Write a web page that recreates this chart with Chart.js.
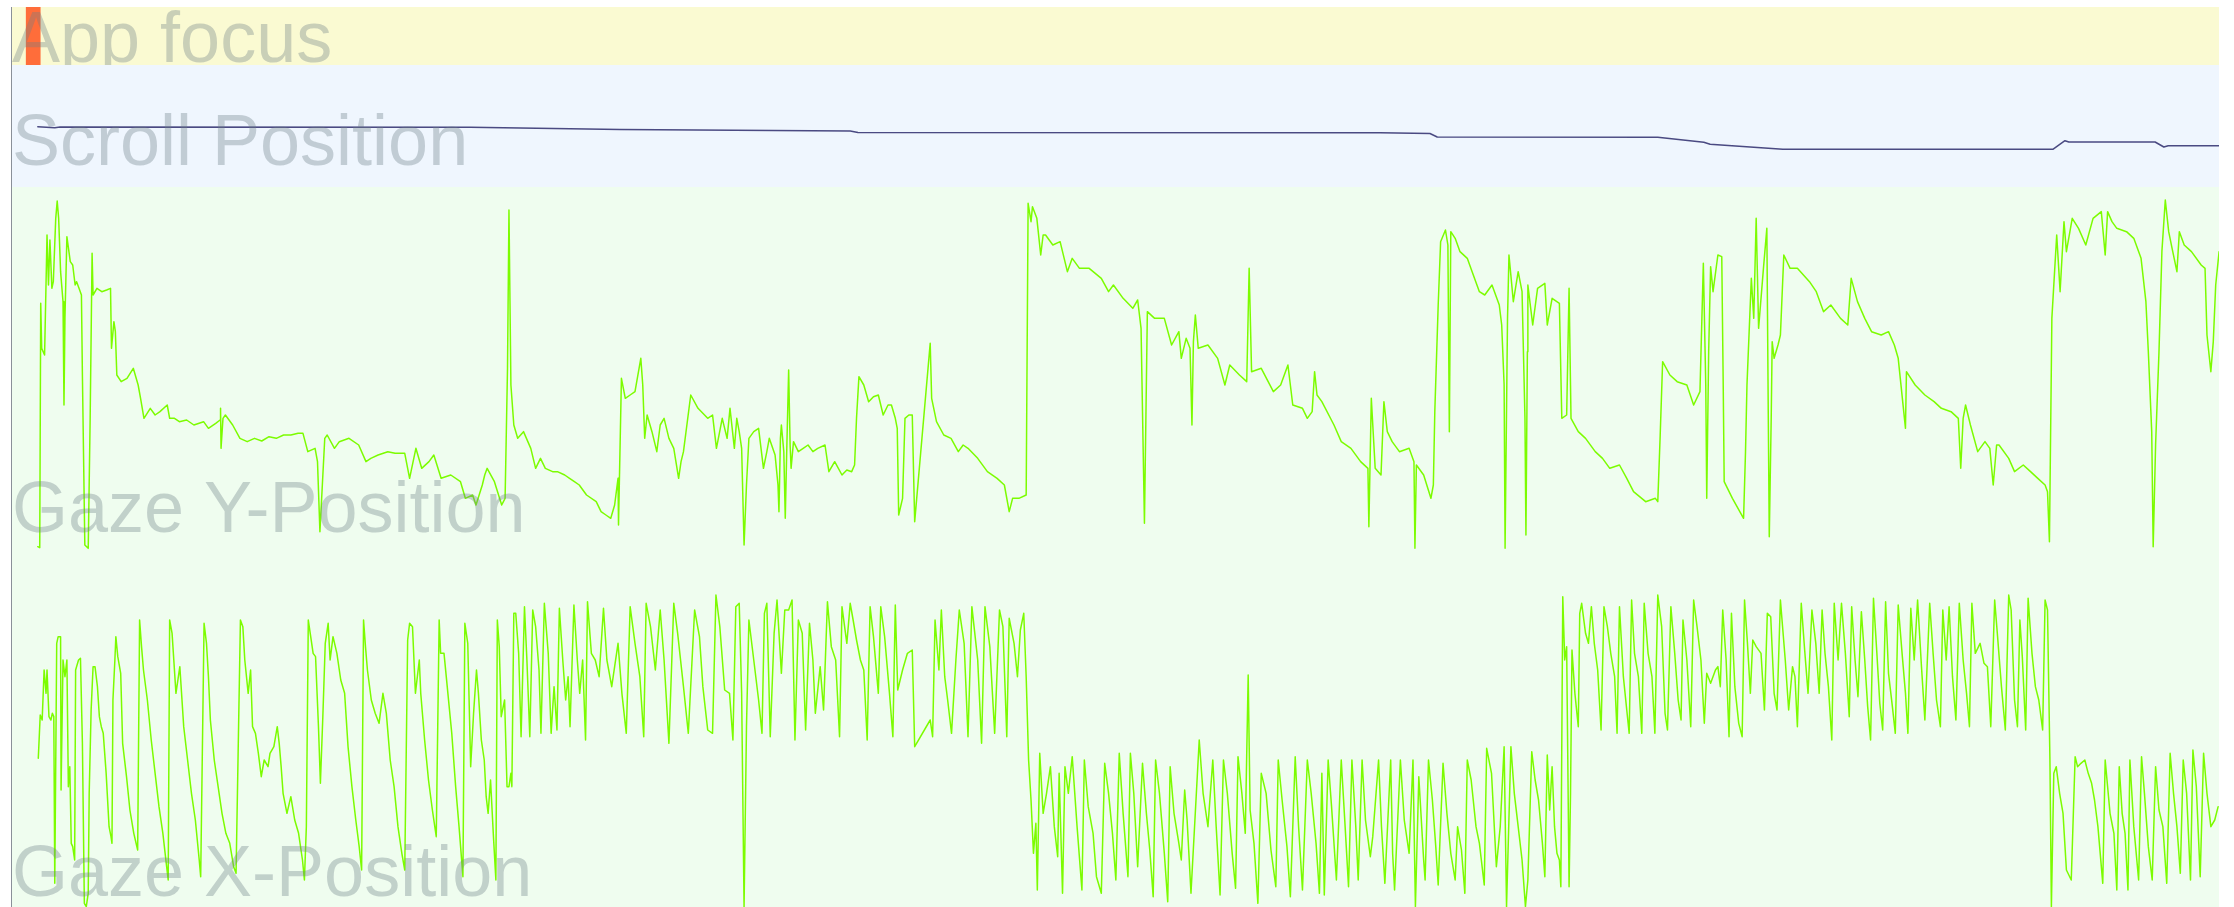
<!DOCTYPE html>
<html>
<head>
<meta charset="utf-8">
<title>Session timeline</title>
<script src="https://cdn.jsdelivr.net/npm/chart.js@4.4.1/dist/chart.umd.min.js"></script>
<style>
  html, body { margin: 0; padding: 0; background: #ffffff; width: 2234px; height: 907px; overflow: hidden; }
  canvas.lane { position: absolute; left: 12px; display: block; }
  #timeAxis { position: absolute; left: 11px; top: 7px; width: 1px; height: 900px; background: #8a9099; }
</style>
</head>
<body>
<div id="timeAxis"></div>
<canvas id="focusLane" class="lane" style="top:7px" width="2207" height="58"></canvas>
<canvas id="scrollLane" class="lane" style="top:65px" width="2207" height="122"></canvas>
<canvas id="gazeYLane" class="lane" style="top:187px" width="2207" height="373"></canvas>
<canvas id="gazeXLane" class="lane" style="top:560px" width="2207" height="347"></canvas>
<script>
// Recording window, in eye-tracker sample numbers (20 Hz)
const sampleRange = [24.76, 4577.8];

// Intervals where the app had focus (start sample, end sample)
const focusSpans = [[54, 83]];

// Document scroll offset in px, [sample, offset]
const scrollTrace = [
  [78,3085],[113,3140],[124,3100],[970,3115],[1279,3225],[1754,3300],[1770,3375],
  [2847,3385],[2950,3425],[2965,3600],[3420,3615],[3515,3865],[3528,3965],[3678,4215],
  [4235,4215],[4260,3785],[4268,3850],[4446,3850],[4464,4100],[4473,4035],[4578,4035]
];

// Vertical gaze position on screen in px, [sample, y]
const gazeYTrace = [
  [78,1085],[82,1088],[84,355],[86,490],[92,510],[97,150],[100,300],[103,165],[107,310],[110,290],
  [115,100],[118,48],[121,100],[125,260],[130,350],[132,660],[134,400],[138,155],[145,230],[150,240],
  [155,300],[158,290],[163,310],[168,330],[170,570],[175,1080],[182,1090],[186,700],[190,205],[192,330],
  [200,310],[210,320],[220,315],[228,310],[230,490],[235,410],[238,440],[241,570],[250,590],[262,580],
  [275,550],[285,600],[290,640],[297,700],[310,670],[320,690],[330,680],[345,660],[350,700],[360,700],
  [370,710],[385,705],[400,720],[420,710],[430,730],[445,715],[454,705],[455,670],[456,790],[460,700],
  [465,690],[480,720],[495,760],[510,770],[525,760],[540,768],[555,755],[570,760],[585,750],[600,750],
  [615,745],[625,745],[635,800],[650,790],[655,830],[660,1040],[665,900],[670,760],[675,750],[690,790],
  [700,770],[720,760],[740,780],[755,830],[765,820],[780,810],[800,800],[815,805],[835,805],[845,880],
  [858,790],[870,850],[885,830],[895,810],[910,880],[930,870],[950,890],[960,940],[975,930],[982,960],
  [995,900],[1000,870],[1005,850],[1020,890],[1035,960],[1042,940],[1047,550],[1050,75],[1054,600],[1060,720],
  [1068,760],[1080,740],[1095,790],[1105,850],[1115,820],[1125,850],[1140,860],[1150,860],[1165,870],[1175,880],
  [1185,890],[1195,900],[1210,930],[1230,950],[1240,980],[1250,990],[1260,1000],[1268,960],[1275,880],[1276,1020],
  [1282,580],[1290,640],[1300,630],[1310,620],[1322,520],[1326,600],[1330,760],[1335,690],[1345,740],[1355,800],
  [1362,720],[1370,700],[1380,760],[1390,790],[1400,880],[1405,830],[1410,800],[1425,630],[1440,670],[1460,700],
  [1470,690],[1478,790],[1490,700],[1500,760],[1506,670],[1515,790],[1520,700],[1525,740],[1530,790],[1535,1080],
  [1540,900],[1545,760],[1555,740],[1565,730],
  [1575,850],[1582,800],[1587,760],[1599,810],[1605,900],[1607,980],[1610,760],[1612,720],[1617,800],[1620,1000],
  [1623,800],[1627,555],[1630,780],[1632,850],[1637,770],[1647,800],[1657,790],[1667,780],[1677,800],[1687,790],
  [1702,780],[1710,860],[1722,830],[1737,870],[1747,855],[1757,860],[1763,840],[1767,700],[1772,575],[1782,600],
  [1792,650],[1802,635],[1812,630],[1822,690],[1832,660],[1839,660],[1847,700],[1851,730],[1854,990],[1862,940],
  [1867,700],[1875,690],[1882,690],[1887,1010],[1919,475],[1922,640],[1932,710],[1947,750],[1962,760],[1977,800],
  [1987,780],[1997,790],[2017,820],[2037,860],[2057,880],[2072,900],[2082,980],[2089,940],[2102,940],[2117,930],
  [2121,55],[2127,110],[2130,65],[2139,100],[2147,210],[2152,150],[2157,150],[2172,180],[2187,170],[2202,260],
  [2212,220],[2227,250],[2247,250],[2272,280],[2287,320],[2297,300],[2317,340],[2337,370],[2347,345],[2354,430],
  [2361,1015],[2367,380],[2382,400],[2402,400],[2417,480],[2432,440],[2437,520],[2447,460],[2455,490],[2459,720],
  [2462,470],[2466,390],[2472,490],[2492,480],[2512,520],[2527,600],[2537,540],[2557,570],[2572,590],[2577,250],
  [2582,560],[2602,550],[2627,620],[2642,600],[2657,540],[2667,660],[2687,670],[2697,700],[2707,680],[2712,560],
  [2717,630],[2727,650],[2752,720],[2767,770],[2787,790],[2807,830],[2822,850],[2824,1025],[2829,640],[2837,850],
  [2849,870],[2855,650],[2862,740],[2872,770],[2887,800],[2907,790],[2917,830],[2919,1090],[2922,840],[2937,870],
  [2952,940],[2957,900],[2960,680],[2967,360],[2972,170],[2982,135],[2987,180],[2990,740],[2993,140],[3002,160],
  [3012,200],[3027,220],[3037,260],[3052,320],
  [3063,330],[3078,300],[3093,360],[3098,420],[3103,600],[3105,1090],[3110,400],[3113,210],[3122,350],[3132,260],
  [3140,320],[3146,700],[3148,1050],[3151,500],[3152,300],[3162,420],[3172,310],[3187,295],[3192,420],[3202,340],
  [3217,355],[3222,700],[3232,690],[3237,310],[3241,700],[3256,740],[3271,760],[3291,800],[3306,820],[3321,850],
  [3341,840],[3356,880],[3370,920],[3395,950],[3415,940],[3420,950],[3425,750],[3430,530],[3445,570],[3460,590],
  [3480,600],[3494,660],[3507,620],[3514,235],[3519,600],[3521,940],[3525,500],[3529,245],[3534,320],[3544,210],
  [3552,215],[3555,600],[3557,890],[3574,940],[3597,1000],[3601,800],[3604,600],[3613,280],[3618,400],[3623,100],
  [3628,430],[3638,250],[3645,130],[3648,700],[3650,1055],[3654,700],[3656,470],[3660,520],[3668,480],[3673,450],
  [3680,210],[3693,250],[3708,250],[3733,290],[3747,320],[3762,380],[3777,360],[3797,400],[3812,420],[3819,280],
  [3832,350],[3847,400],[3861,440],[3881,450],[3896,440],[3908,480],[3916,520],[3931,730],[3933,560],[3951,600],
  [3971,630],[3990,650],[4005,670],[4025,680],[4040,700],[4045,850],[4050,700],[4055,660],[4065,720],[4080,800],
  [4095,770],[4105,790],[4112,900],[4119,780],[4124,780],[4144,820],[4156,860],[4174,840],[4189,860],[4204,880],
  [4219,900],[4224,920],[4228,1070],[4233,400],[4243,150],[4250,320],[4258,110],[4263,200],[4275,100],[4288,130],
  [4303,180],[4318,100],[4335,80],[4343,210],[4348,80],[4357,110],[4367,130],[4387,140],[4402,160],[4417,220],
  [4427,350],[4432,500],[4439,740],[4442,1085],[4447,780],[4454,500],[4460,200],[4467,45],[4474,140],[4481,190],
  [4491,260],[4496,140],[4506,180],[4521,200],[4541,240],[4549,250],[4553,450],[4561,560],[4566,470],[4571,300],
  [4578,200]
];

// Horizontal gaze position on screen in px, [sample, x]
const gazeXTrace = [
  [79,595],[83,465],[87,480],[91,330],[95,400],[97,330],[101,470],[105,480],[108,460],[111,470],
  [113,970],[117,250],[120,230],[125,230],[126,690],[130,300],[134,350],[138,300],[141,680],[144,620],
  [147,850],[150,860],[154,900],[156,330],[162,300],[166,295],[170,550],[174,1030],[178,1040],[182,1000],
  [184,700],[188,450],[192,320],[196,320],[201,380],[205,470],[209,500],[213,520],[219,640],[225,800],
  [229,830],[231,850],[233,420],[237,300],[239,230],[243,290],[249,340],[253,550],[261,650],[268,750],
  [276,820],[284,870],[288,180],[292,260],[296,330],[304,420],[312,540],[320,640],[328,740],[336,820],
  [343,910],[347,960],[350,180],[355,220],[363,400],[371,320],[379,500],[387,600],[395,700],[403,780],
  [411,900],[414,950],[421,190],[426,250],[430,350],[434,480],[442,600],[450,680],[458,760],[466,820],
  [474,850],[482,920],[487,940],[491,600],[496,180],[501,200],[505,300],[512,400],[517,330],[521,500],
  [527,520],[533,580],[539,650],[545,600],[553,620],[557,580],[565,560],[572,500],[576,550],[580,620],
  [584,700],[592,760],[600,710],[608,780],[616,820],[624,900],[628,960],[632,800],[636,180],[641,230],
  [646,280],[651,290],[657,500],[661,670],[666,470],[671,250],[677,190],[681,300],[687,230],[695,280],
  [703,360],[711,400],[718,560],[726,680],[734,780],[741,860],[746,930],[750,180],[754,260],[758,330],
  [766,420],[774,460],[782,490],[790,400],[797,460],[805,600],[813,680],[821,800],[829,880],[835,930],
  [841,240],[845,190],[851,200],[857,400],[865,300],[868,400],[876,540],[884,660],[892,750],[900,830],
  [906,180],[909,280],[916,280],[924,400],[932,520],[940,680],[947,800],[955,950],[959,190],[965,250],
  [971,620],[977,460],[983,330],[987,400],[993,540],[999,600],[1003,710],[1007,760],[1012,660],[1018,830],
  [1023,960],[1026,180],[1030,260],[1034,470],[1041,420],[1046,680],[1050,680],[1054,640],[1056,680],[1060,160],
  [1064,160],[1070,280],[1075,530],[1082,140],[1087,300],[1093,530],[1099,150],[1105,200],[1112,330],[1116,520],
  [1123,130],[1131,280],[1137,520],[1143,380],[1149,510],[1154,145],[1161,300],[1167,420],[1172,350],[1176,500],
  [1184,135],[1191,300],[1196,400],[1202,300],[1208,540],[1212,125],[1220,280],[1228,300],[1236,350],
  [1245,145],[1252,300],[1262,380],[1275,250],[1283,400],[1292,520],[1300,140],[1310,250],[1320,350],[1328,530],
  [1333,130],[1342,200],[1352,330],[1362,150],[1370,300],[1380,550],[1390,130],[1398,220],[1410,380],[1420,520],
  [1433,150],[1443,230],[1450,380],[1460,510],[1470,520],[1477,105],[1485,200],[1495,390],[1505,400],[1512,540],
  [1518,140],[1525,130],[1530,400],[1535,1040],[1540,500],[1545,180],[1555,300],[1565,420],
  [1572,520],[1577,160],[1582,130],[1589,530],[1597,220],[1603,120],[1612,340],[1619,150],[1627,150],[1634,120],
  [1640,540],[1647,180],[1655,220],[1662,510],[1670,190],[1677,300],[1682,460],[1692,320],[1699,450],[1707,125],
  [1715,260],[1724,300],[1732,530],[1737,140],[1747,250],[1754,130],[1760,180],[1767,240],[1775,300],[1782,330],
  [1789,540],[1795,140],[1802,230],[1812,400],[1817,140],[1825,230],[1835,400],[1842,530],[1847,135],[1852,390],
  [1862,330],[1872,280],[1882,270],[1887,560],[1919,480],[1924,530],[1929,180],[1937,330],[1942,150],[1949,350],
  [1955,420],[1963,520],[1972,300],[1979,150],[1989,250],[1997,530],[2005,140],[2017,300],[2025,550],[2032,140],
  [2042,260],[2052,520],[2062,150],[2069,200],[2077,530],[2082,175],[2092,250],[2099,350],[2105,210],[2112,160],
  [2117,350],[2122,600],[2127,720],[2132,880],[2137,790],[2140,990],[2145,580],[2152,760],[2159,700],[2167,620],
  [2175,800],[2182,890],[2185,640],[2192,1000],[2197,620],[2204,700],[2212,590],[2222,800],[2232,990],[2237,600],
  [2245,740],[2255,820],[2262,950],[2272,1000],[2279,610],[2287,700],[2295,820],[2302,960],[2309,580],[2317,760],
  [2327,950],[2332,580],[2339,700],[2347,920],[2357,610],[2365,760],[2372,870],[2379,1010],[2384,600],[2392,700],
  [2402,880],[2409,1025],[2414,620],[2422,760],[2432,850],[2437,900],[2444,690],[2449,780],[2457,1000],[2474,540],
  [2482,700],[2492,800],[2502,600],[2509,800],[2517,1005],[2524,600],[2532,700],[2542,880],[2549,985],[2554,590],
  [2562,700],[2569,820],[2575,345],[2579,750],[2587,850],[2595,1030],[2602,640],[2612,700],[2622,870],[2632,980],
  [2637,600],[2645,720],[2655,860],[2662,1010],[2672,590],[2679,800],[2687,990],[2697,600],[2705,700],[2715,850],
  [2722,1000],[2727,640],[2732,1005],[2740,600],[2747,740],[2757,960],[2767,600],[2775,800],[2782,980],[2789,600],
  [2797,800],[2802,960],[2810,600],[2817,780],[2827,890],[2832,830],[2844,600],[2850,800],[2857,970],[2869,600],
  [2873,880],[2877,990],[2889,600],[2897,780],[2907,880],[2915,600],[2920,1040],[2927,650],[2937,900],[2940,960],
  [2947,600],[2955,720],[2962,860],[2967,975],[2977,610],[2985,760],[2993,880],[3002,960],[3007,800],[3015,870],
  [3022,1000],[3027,600],[3035,660],[3045,800],[3052,850],[3062,975],[3067,565],[3077,640],[3087,920],[3095,800],
  [3103,560],[3108,1040],[3117,560],[3124,700],[3132,800],[3140,900],[3147,1040],[3152,960],[3160,575],[3167,660],
  [3174,720],[3182,850],[3187,950],[3192,585],[3197,750],[3202,620],[3207,800],[3212,880],[3217,900],[3220,980],
  [3224,110],[3228,300],[3232,260],[3237,980],[3240,700],[3243,270],[3249,400],[3256,500],[3259,160],[3263,130],
  [3271,220],[3277,250],[3283,140],[3289,250],[3296,330],[3303,510],[3309,140],[3316,200],[3323,280],[3331,350],
  [3336,520],[3341,140],[3349,350],[3356,450],[3361,520],[3366,120],[3372,280],[3380,350],[3387,520],[3392,130],
  [3400,280],[3408,350],[3414,520],[3420,105],[3428,200],[3435,460],[3440,510],[3447,140],[3455,280],[3462,420],
  [3468,480],[3472,180],[3480,300],[3488,500],[3494,120],[3501,200],[3509,300],[3516,490],[3521,340],[3529,370],
  [3539,330],[3544,320],[3549,380],[3554,150],[3561,300],[3567,530],[3572,160],[3579,380],[3587,490],[3594,530],
  [3599,120],[3605,250],[3611,400],[3616,240],[3623,260],[3633,280],[3640,450],[3646,160],[3653,170],[3660,400],
  [3666,450],[3673,120],[3683,300],[3690,450],[3698,320],[3703,350],[3708,500],[3716,130],[3723,270],[3730,400],
  [3738,150],[3746,250],[3753,400],[3759,150],[3765,280],[3772,380],[3779,540],[3784,130],[3792,300],[3799,130],
  [3807,280],[3815,470],[3820,140],[3827,300],[3833,410],[3840,155],[3847,300],[3853,440],[3859,540],[3865,115],
  [3872,280],[3878,430],[3884,510],[3890,125],[3896,340],[3904,440],[3910,520],[3916,135],[3924,280],[3931,400],
  [3936,520],[3942,145],[3949,300],[3956,120],[3964,320],[3971,480],[3981,130],[3988,280],[3995,420],[4003,500],
  [4008,150],[4015,300],[4021,140],[4028,350],[4035,480],[4042,130],[4050,300],[4057,400],[4063,500],[4068,130],
  [4075,280],[4085,250],[4093,310],[4100,320],[4107,500],[4115,120],[4121,230],[4129,380],[4137,510],[4144,105],
  [4149,150],[4156,420],[4162,500],[4167,180],[4172,290],[4179,510],[4184,115],[4192,280],[4199,380],[4206,420],
  [4214,510],[4219,120],[4224,150],[4229,600],[4232,1040],[4237,640],[4242,620],[4249,700],[4256,760],[4263,930],
  [4273,960],[4281,590],[4286,620],[4293,610],[4301,600],[4308,640],[4315,670],[4321,720],[4328,800],[4338,970],
  [4343,600],[4353,760],[4361,820],[4367,990],[4372,620],[4378,760],[4384,820],[4390,990],[4394,600],[4402,800],
  [4412,960],[4418,590],[4424,700],[4432,860],[4440,960],[4447,620],[4454,750],[4462,800],[4470,970],[4477,580],
  [4484,700],[4491,800],[4498,940],[4504,600],[4511,700],[4519,960],[4524,570],[4531,680],[4539,950],[4546,580],
  [4553,700],[4561,800],[4569,780],[4576,740]
];

const laneTitles = ['App focus', 'Scroll Position', 'Gaze Y-Position', 'Gaze X-Position'];

// Paints the lane background and its large watermark title
const laneDecor = {
  id: 'laneDecor',
  beforeDraw(chart, args, opts) {
    const { ctx, width, height } = chart;
    ctx.save();
    ctx.fillStyle = opts.background;
    ctx.fillRect(0, 0, width, height);
    ctx.restore();
  },
  afterDatasetsDraw(chart, args, opts) {
    const { ctx } = chart;
    ctx.save();
    ctx.font = '72px "Liberation Sans", Arial, Helvetica, sans-serif';
    ctx.fillStyle = 'rgba(110,125,135,0.35)';
    ctx.textAlign = 'left';
    ctx.textBaseline = 'alphabetic';
    ctx.fillText(opts.title, 0, opts.baseline);
    ctx.restore();
  }
};
Chart.register(laneDecor);

const toPoints = rows => rows.map(([x, y]) => ({ x, y }));

function baseOptions(decor) {
  return {
    responsive: false,
    animation: false,
    devicePixelRatio: 1,
    events: [],
    layout: { padding: 0 },
    plugins: { legend: { display: false }, tooltip: { enabled: false }, laneDecor: decor },
    elements: {
      point: { radius: 0, hoverRadius: 0 },
      line: { tension: 0, borderJoinStyle: 'round', borderCapStyle: 'round' }
    }
  };
}

function traceLane(canvasId, rows, color, width, yMin, yMax, decor) {
  const options = baseOptions(decor);
  options.scales = {
    x: { type: 'linear', min: sampleRange[0], max: sampleRange[1], display: false },
    y: { type: 'linear', min: yMin, max: yMax, reverse: true, display: false }
  };
  return new Chart(document.getElementById(canvasId), {
    type: 'line',
    data: {
      datasets: [{
        data: toPoints(rows),
        borderColor: color,
        borderWidth: width,
        fill: false,
        pointRadius: 0
      }]
    },
    options
  });
}

// App focus: floating horizontal bars over the time axis
(function () {
  const options = baseOptions({ background: '#fafad2', title: laneTitles[0], baseline: 55 });
  options.indexAxis = 'y';
  options.scales = {
    x: { type: 'linear', min: sampleRange[0], max: sampleRange[1], display: false },
    y: { type: 'category', display: false }
  };
  new Chart(document.getElementById('focusLane'), {
    type: 'bar',
    data: {
      labels: focusSpans.map((s, i) => 'focus ' + (i + 1)).slice(0, 1),
      datasets: [{
        data: focusSpans,
        backgroundColor: '#ff6d3a',
        borderWidth: 0,
        barPercentage: 1,
        categoryPercentage: 1
      }]
    },
    options
  });
})();

traceLane('scrollLane', scrollTrace, '#4a4a82', 1.5, 0, 6100,
  { background: '#eff6fe', title: laneTitles[1], baseline: 100 });
traceLane('gazeYLane', gazeYTrace, '#7cfc00', 1.5, 6, 1125,
  { background: '#effdef', title: laneTitles[2], baseline: 345 });
traceLane('gazeXLane', gazeXTrace, '#7cfc00', 1.5, 0, 1041,
  { background: '#effdef', title: laneTitles[3], baseline: 336 });
</script>
</body>
</html>
